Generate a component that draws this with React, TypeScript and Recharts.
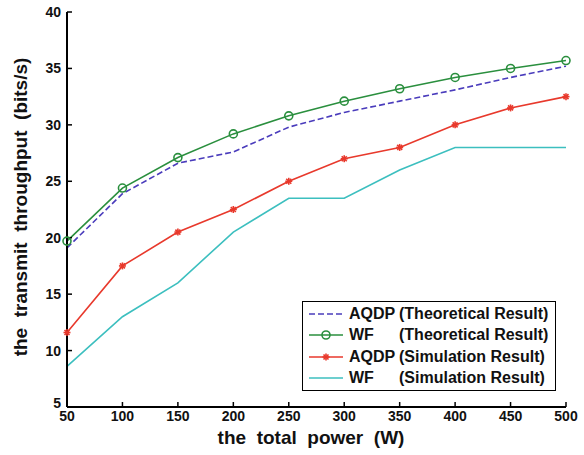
import React from 'react';
import { LineChart, Line, XAxis, YAxis, Legend, Label } from 'recharts';

const powers = [50, 100, 150, 200, 250, 300, 350, 400, 450, 500];
const aqdpTheory = [19.1, 23.9, 26.6, 27.6, 29.8, 31.1, 32.1, 33.1, 34.2, 35.2];
const wfTheory = [19.7, 24.4, 27.1, 29.2, 30.8, 32.1, 33.2, 34.2, 35.0, 35.7];
const aqdpSim = [11.6, 17.5, 20.5, 22.5, 25.0, 27.0, 28.0, 30.0, 31.5, 32.5];
const wfSim = [8.6, 13.0, 16.0, 20.5, 23.5, 23.5, 26.0, 28.0, 28.0, 28.0];

const xTicks = [50, 100, 150, 200, 250, 300, 350, 400, 450, 500];
const yTicks = [5, 10, 15, 20, 25, 30, 35, 40];

const data = powers.map((p, i) => ({
  p,
  aqdpTheory: aqdpTheory[i],
  wfTheory: wfTheory[i],
  aqdpSim: aqdpSim[i],
  wfSim: wfSim[i],
}));

const C_BLUE = '#4a3cbc';
const C_GREEN = '#2a8f3e';
const C_RED = '#e8392c';
const C_CYAN = '#3cbfbf';

const FONT = 'Arial, "Liberation Sans", Helvetica, sans-serif';

const series = [
  { key: 'aqdpTheory', name: 'AQDP', desc: '(Theoretical Result)', color: C_BLUE, dash: '6 3', marker: 'none' },
  { key: 'wfTheory', name: 'WF', desc: '(Theoretical Result)', color: C_GREEN, dash: undefined, marker: 'circle' },
  { key: 'aqdpSim', name: 'AQDP', desc: '(Simulation Result)', color: C_RED, dash: undefined, marker: 'star' },
  { key: 'wfSim', name: 'WF', desc: '(Simulation Result)', color: C_CYAN, dash: undefined, marker: 'none' },
];

const CircleDot = (props: any) => {
  const { cx, cy } = props;
  if (cx == null || cy == null) return null;
  return <circle cx={cx} cy={cy} r={4} fill="none" stroke={C_GREEN} strokeWidth={1.6} />;
};

const StarDot = (props: any) => {
  const { cx, cy } = props;
  if (cx == null || cy == null) return null;
  const s = 3.5;
  const d = 2.5;
  return (
    <g stroke={C_RED} strokeWidth={1.6}>
      <line x1={cx - s} y1={cy} x2={cx + s} y2={cy} />
      <line x1={cx} y1={cy - s} x2={cx} y2={cy + s} />
      <line x1={cx - d} y1={cy - d} x2={cx + d} y2={cy + d} />
      <line x1={cx - d} y1={cy + d} x2={cx + d} y2={cy - d} />
    </g>
  );
};

const LegendBox = () => (
  <div
    style={{
      border: '1.5px solid #000',
      background: '#fff',
      width: 252,
      padding: '1px 0 1px 0',
      fontFamily: FONT,
      fontWeight: 'bold',
      fontSize: 16,
      color: '#111',
      boxSizing: 'content-box',
    }}
  >
    {series.map((s) => (
      <div key={s.key} style={{ display: 'flex', alignItems: 'center', height: 21.5, whiteSpace: 'nowrap' }}>
        <svg width={46} height={12} style={{ flex: 'none' }}>
          <line x1={6} y1={6} x2={40} y2={6} stroke={s.color} strokeWidth={1.6} strokeDasharray={s.dash} />
          {s.marker === 'circle' && <CircleDot cx={23} cy={6} />}
          {s.marker === 'star' && <StarDot cx={23} cy={6} />}
        </svg>
        <span style={{ display: 'inline-block', width: 50, whiteSpace: 'pre' }}>{s.name}</span>
        <span style={{ whiteSpace: 'pre' }}>{s.desc}</span>
      </div>
    ))}
  </div>
);

const tickStyle = { fontFamily: FONT, fontWeight: 'bold', fontSize: 14, fill: '#111' };

const YTick = (props: any) => {
  const { x, y, payload } = props;
  const lift = payload.value === yTicks[0] ? -4 : 0;
  return (
    <text x={x} y={y + lift} dy="0.355em" textAnchor="end" style={tickStyle}>
      {payload.value}
    </text>
  );
};

export default function App() {
  return (
    <div style={{ position: 'absolute', left: 0, top: 0, width: 584, height: 455, background: '#fff' }}>
      <LineChart width={584} height={455} data={data} margin={{ top: 12, right: 18, bottom: 0, left: 0 }}>
        <XAxis
          xAxisId="bottom"
          dataKey="p"
          type="number"
          domain={[50, 500]}
          ticks={xTicks}
          height={48}
          tickSize={-5}
          tickMargin={9}
          tick={tickStyle}
          axisLine={{ stroke: '#000', strokeWidth: 2 }}
          tickLine={{ stroke: '#000', strokeWidth: 1.5 }}
          interval={0}
        >
          <Label
            content={() => (
              <text
                x={311}
                y={444}
                textAnchor="middle"
                style={{ fontFamily: FONT, fontWeight: 'bold', fontSize: 19, fill: '#111', whiteSpace: 'pre' }}
              >
                {'the  total  power  (W)'}
              </text>
            )}
          />
        </XAxis>
        <XAxis
          xAxisId="top"
          orientation="top"
          dataKey="p"
          type="number"
          domain={[50, 500]}
          ticks={xTicks}
          height={0}
          tickSize={-5}
          tick={false}
          axisLine={{ stroke: '#000', strokeWidth: 2 }}
          tickLine={{ stroke: '#000', strokeWidth: 1.5 }}
          interval={0}
        />
        <YAxis
          yAxisId="left"
          type="number"
          domain={[5, 40]}
          ticks={yTicks}
          width={67}
          tickSize={-5}
          tickMargin={11}
          tick={<YTick />}
          axisLine={{ stroke: '#000', strokeWidth: 2 }}
          tickLine={{ stroke: '#000', strokeWidth: 1.5 }}
          interval={0}
        >
          <Label
            content={() => (
              <text
                x={27}
                y={207}
                textAnchor="middle"
                transform="rotate(-90 27 207)"
                style={{ fontFamily: FONT, fontWeight: 'bold', fontSize: 19, fill: '#111', whiteSpace: 'pre' }}
              >
                {'the  transmit  throughput  (bits/s)'}
              </text>
            )}
          />
        </YAxis>
        <YAxis
          yAxisId="right"
          orientation="right"
          type="number"
          domain={[5, 40]}
          ticks={yTicks}
          width={0}
          tickSize={-5}
          tick={false}
          axisLine={{ stroke: '#000', strokeWidth: 2 }}
          tickLine={{ stroke: '#000', strokeWidth: 1.5 }}
          interval={0}
        />
        <Legend
          layout="horizontal"
          verticalAlign="middle"
          align="center"
          content={() => <LegendBox />}
          wrapperStyle={{ position: 'absolute', left: 302, top: 301, width: 'auto', height: 'auto' }}
        />
        <Line
          xAxisId="bottom"
          yAxisId="left"
          dataKey="wfSim"
          stroke={C_CYAN}
          strokeWidth={1.6}
          dot={false}
          isAnimationActive={false}
          type="linear"
        />
        <Line
          xAxisId="bottom"
          yAxisId="left"
          dataKey="aqdpSim"
          stroke={C_RED}
          strokeWidth={1.6}
          dot={<StarDot />}
          isAnimationActive={false}
          type="linear"
        />
        <Line
          xAxisId="bottom"
          yAxisId="left"
          dataKey="aqdpTheory"
          stroke={C_BLUE}
          strokeWidth={1.6}
          strokeDasharray="6 3"
          dot={false}
          isAnimationActive={false}
          type="linear"
        />
        <Line
          xAxisId="bottom"
          yAxisId="left"
          dataKey="wfTheory"
          stroke={C_GREEN}
          strokeWidth={1.6}
          dot={<CircleDot />}
          isAnimationActive={false}
          type="linear"
        />
      </LineChart>
    </div>
  );
}
